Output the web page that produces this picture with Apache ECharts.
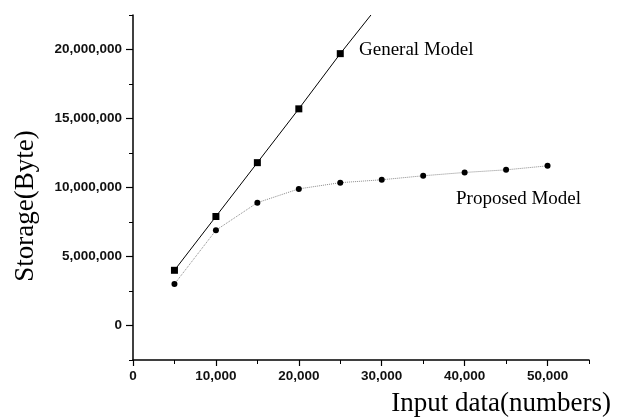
<!DOCTYPE html>
<html lang="en">
<head>
    <meta charset="UTF-8">
    <title>Storage vs input data</title>
    <script src="https://cdn.jsdelivr.net/npm/echarts@6/dist/echarts.min.js"></script>
    <style>
        html, body, #chart {
            width: 618px;
            height: 417px;
            padding: 0;
            margin: 0;
            background: #fff;
        }
    </style>
</head>
<body>
<div id="chart"></div>
<script>
    // values
    var generalX = [5000, 10000, 15000, 20000, 25000];
    var generalY = [4000000, 7900000, 11800000, 15700000, 19700000];
    // where the general line leaves the top of the plot
    var generalTail = [28700, 22500000];

    var proposedX = [5000, 10000, 15000, 20000, 25000, 30000, 35000, 40000, 45000, 50000];
    var proposedY = [3000000, 6900000, 8900000, 9900000, 10350000, 10560000, 10850000, 11090000, 11280000, 11570000];

    var xTicks = [0, 10000, 20000, 30000, 40000, 50000];
    var xMinorTicks = [5000, 15000, 25000, 35000, 45000, 55000];
    var yTicks = [0, 5000000, 10000000, 15000000, 20000000];
    var yMinorTicks = [-2500000, 2500000, 7500000, 12500000, 17500000, 22500000];

    function fmt(v) {
        return String(v).replace(/\B(?=(\d{3})+(?!\d))/g, ",");
    }

    var generalData = generalX.map(function (x, i) { return [x, generalY[i]]; });
    generalData.push({value: generalTail, symbol: "none"});
    var proposedData = proposedX.map(function (x, i) { return [x, proposedY[i]]; });

    var labelFont = {color: "#111", fontFamily: "Liberation Sans", fontSize: 13.5, fontWeight: "bold"};
    var serif = "Liberation Serif";

    var myChart = echarts.init(document.getElementById("chart"));
    myChart.setOption({
        animation: false,
        grid: {left: 133, right: 29, top: 15, bottom: 57},
        xAxis: [{
            type: "value",
            min: 0,
            max: 55000,
            splitLine: {show: false},
            axisLine: {onZero: false, lineStyle: {color: "#000", width: 1.5}},
            axisTick: {length: 6, customValues: xTicks, lineStyle: {color: "#000", width: 1.2}},
            axisLabel: Object.assign({customValues: xTicks, margin: 9, formatter: fmt}, labelFont)
        }, {
            type: "value",
            min: 0,
            max: 55000,
            position: "bottom",
            splitLine: {show: false},
            axisLine: {show: false, onZero: false},
            axisTick: {length: 4, customValues: xMinorTicks, lineStyle: {color: "#000", width: 1}},
            axisLabel: {show: false}
        }],
        yAxis: [{
            type: "value",
            min: -2500000,
            max: 22500000,
            splitLine: {show: false},
            axisLine: {show: true, onZero: false, lineStyle: {color: "#000", width: 1.5}},
            axisTick: {show: true, length: 7, customValues: yTicks, lineStyle: {color: "#000", width: 1.2}},
            axisLabel: Object.assign({customValues: yTicks, margin: 11, formatter: fmt}, labelFont)
        }, {
            type: "value",
            min: -2500000,
            max: 22500000,
            position: "left",
            splitLine: {show: false},
            axisLine: {show: false, onZero: false},
            axisTick: {show: true, length: 4, customValues: yMinorTicks, lineStyle: {color: "#000", width: 1}},
            axisLabel: {show: false}
        }],
        series: [{
            name: "General Model",
            type: "line",
            data: generalData,
            symbol: "rect",
            symbolSize: 7,
            clip: true,
            itemStyle: {color: "#000"},
            lineStyle: {color: "#000", width: 1}
        }, {
            name: "Proposed Model",
            type: "line",
            data: proposedData,
            symbol: "circle",
            symbolSize: 6,
            itemStyle: {color: "#000"},
            lineStyle: {color: "#888", width: 1, type: "dotted"}
        }],
        graphic: [{
            type: "text",
            x: 359, y: 50,
            style: {text: "General Model", font: "19px " + serif, fill: "#000", textVerticalAlign: "middle"}
        }, {
            type: "text",
            x: 456, y: 199,
            style: {text: "Proposed Model", font: "19px " + serif, fill: "#000", textVerticalAlign: "middle"}
        }, {
            type: "text",
            x: 26, y: 206,
            rotation: Math.PI / 2,
            style: {text: "Storage(Byte)", font: "27px " + serif, fill: "#000", textAlign: "center", textVerticalAlign: "middle"}
        }, {
            type: "text",
            x: 611, y: 404,
            style: {text: "Input data(numbers)", font: "27px " + serif, fill: "#000", textAlign: "right", textVerticalAlign: "middle"}
        }]
    });
</script>
</body>
</html>
